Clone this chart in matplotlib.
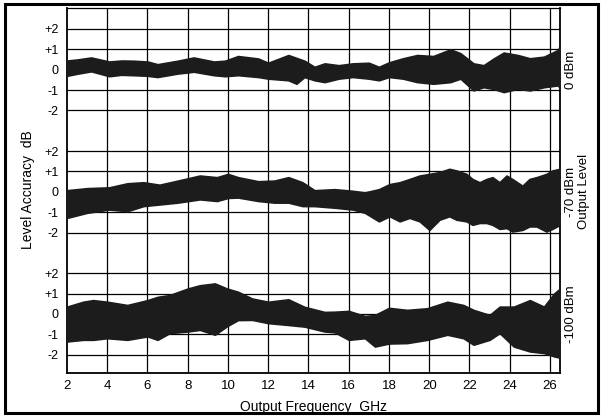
import matplotlib.pyplot as plt
from matplotlib.patches import Rectangle

plt.rcParams['font.family'] = ['Liberation Sans', 'DejaVu Sans']

# banda a 0 dBm: frequenza (GHz), bordo superiore e inferiore (dB)
f_0 = [2.0, 2.5, 3.2, 4.1, 4.7, 5.3, 6.0, 6.5, 7.5, 8.3, 9.3, 9.85, 10.5, 11.5, 12.0,
       13.0, 13.4, 13.8, 14.3, 14.8, 15.5, 16.2, 17.0, 17.5, 18.0, 18.7, 19.4, 20.2,
       21.05, 21.55, 22.2, 22.7, 23.2, 23.7, 24.4, 25.0, 25.7, 26.4, 26.5]
up_0 = [0.45, 0.5, 0.6, 0.4, 0.45, 0.44, 0.4, 0.27, 0.44, 0.6, 0.4, 0.44, 0.67, 0.55, 0.34,
        0.72, 0.58, 0.44, 0.14, 0.31, 0.22, 0.31, 0.34, 0.14, 0.36, 0.56, 0.72, 0.67,
        1.0, 0.81, 0.31, 0.22, 0.55, 0.84, 0.72, 0.56, 0.64, 0.97, 1.2]
lo_0 = [-0.3, -0.2, -0.08, -0.32, -0.25, -0.27, -0.3, -0.36, -0.19, -0.1, -0.27, -0.32, -0.27,
        -0.36, -0.44, -0.52, -0.69, -0.36, -0.52, -0.61, -0.44, -0.36, -0.44, -0.52, -0.36,
        -0.44, -0.61, -0.69, -0.61, -0.44, -1.02, -0.86, -0.95, -1.1, -0.94, -1.02, -0.86,
        -0.77, -0.95]

# banda a -70 dBm
f_70 = [2.0, 3.0, 4.1, 5.0, 5.8, 6.6, 7.5, 8.6, 9.45, 10.0, 10.5, 11.5, 12.3, 13.0, 13.7,
        14.3, 15.3, 16.2, 16.8, 17.5, 18.03, 18.53, 19.02, 19.52, 20.01, 20.51, 21.0,
        21.35, 21.85, 22.15, 22.5, 22.84, 23.14, 23.49, 23.84, 24.13, 24.63, 24.98,
        25.33, 25.82, 26.12, 26.5]
up_70 = [0.08, 0.18, 0.22, 0.42, 0.47, 0.35, 0.55, 0.8, 0.72, 0.88, 0.72, 0.52, 0.55, 0.72,
         0.47, 0.08, 0.13, 0.05, -0.03, 0.13, 0.38, 0.47, 0.63, 0.8, 0.88, 0.97, 1.13,
         1.05, 0.88, 0.63, 0.47, 0.63, 0.72, 0.47, 0.8, 0.63, 0.3, 0.63,
         0.72, 0.88, 1.05, 1.13]
lo_70 = [-1.28, -1.03, -0.87, -0.95, -0.7, -0.62, -0.53, -0.37, -0.45, -0.3, -0.28, -0.45,
         -0.53, -0.53, -0.7, -0.7, -0.78, -0.87, -1.03, -1.45, -1.2, -1.45, -1.28, -1.45,
         -1.87, -1.37, -1.2, -1.37, -1.45, -1.62, -1.53, -1.53, -1.62, -1.82, -1.78, -1.95,
         -1.87, -1.7, -1.7, -1.95, -1.82, -1.62]

# banda a -100 dBm
f_100 = [2.0, 2.8, 3.3, 4.0, 5.0, 6.0, 6.5, 7.1, 8.0, 8.6, 9.35, 9.95, 10.5, 11.2, 12.0,
         13.0, 13.8, 14.8, 15.3, 16.0, 16.8, 17.3, 18.0, 18.9, 19.9, 20.9, 21.7, 22.2,
         23.0, 23.5, 24.2, 25.0, 25.7, 26.2, 26.5]
up_100 = [0.36, 0.6, 0.68, 0.6, 0.44, 0.68, 0.84, 0.93, 1.25, 1.41, 1.5, 1.25, 1.09, 0.76, 0.6,
          0.72, 0.35, 0.1, 0.11, 0.15, -0.1, -0.05, 0.3, 0.2, 0.28, 0.6, 0.44, 0.2,
          -0.05, 0.36, 0.36, 0.68, 0.36, 1.0, 1.25]
lo_100 = [-1.35, -1.27, -1.27, -1.19, -1.27, -1.1, -1.27, -0.94, -0.86, -0.78, -1.02, -0.6,
          -0.3, -0.29, -0.45, -0.54, -0.62, -0.86, -0.9, -1.27, -1.19, -1.6, -1.45, -1.43,
          -1.27, -1.02, -1.19, -1.51, -1.27, -0.94, -1.6, -1.84, -1.92, -2.08, -2.15]

livelli = ["0 dBm", "-70 dBm", "-100 dBm"]
tick_y = ["+2", "+1", "0", "-1", "-2"]
freq_ticks = [2, 4, 6, 8, 10, 12, 14, 16, 18, 20, 22, 24, 26]

# ogni banda e' spostata verso il basso di 6 unita'
passo = 6
bande = [(f_0, up_0, lo_0), (f_70, up_70, lo_70), (f_100, up_100, lo_100)]

fig = plt.figure(figsize=(6.02, 4.17), dpi=100)
ax = fig.add_axes([0.1113, 0.1055, 0.819, 0.8753])

for i, (f, up, lo) in enumerate(bande):
    off = -passo * i
    ax.fill_between(f, [v + off for v in lo], [v + off for v in up],
                    facecolor='#1c1c1c', edgecolor='#1c1c1c', lw=1.2, zorder=3)
    for k, lab in enumerate(tick_y):
        ax.axhline(2 - k + off, color='black', lw=0.9, zorder=1)

for x in freq_ticks[1:]:
    ax.axvline(x, color='black', lw=0.9, zorder=1)

ax.set_xlim(2, 26.5)
ax.set_ylim(-14.9, 3.03)

yt = [2 - k - passo * i for i in range(3) for k in range(5)]
ax.set_yticks(yt)
ax.set_yticklabels(tick_y * 3, fontsize=9)
ax.set_xticks(freq_ticks)
ax.set_xticklabels([str(x) for x in freq_ticks], fontsize=9.5)
ax.tick_params(length=0, pad=6)
ax.tick_params(axis='x', pad=5)

for s in ax.spines.values():
    s.set_linewidth(1.3)
ax.spines['top'].set_linewidth(0.9)

ax.set_xlabel("Output Frequency  GHz", fontsize=10, labelpad=6)
fig.text(0.047, 0.545, "Level Accuracy  dB", rotation=90, fontsize=10,
         ha='center', va='center')

# etichette dei livelli sul lato destro
for i, lab in enumerate(livelli):
    ax.text(1.023, 0 - passo * i, lab, transform=ax.get_yaxis_transform(),
            rotation=90, fontsize=9.5, ha='center', va='center')
ax.text(1.048, -passo, "Output Level", transform=ax.get_yaxis_transform(),
        rotation=90, fontsize=9.5, ha='center', va='center')

# cornice esterna
fig.patches.append(Rectangle((0.008, 0.01), 0.985, 0.98, transform=fig.transFigure,
                             fill=False, lw=2.2, edgecolor='black'))

fig.savefig("out.png", dpi=100)
